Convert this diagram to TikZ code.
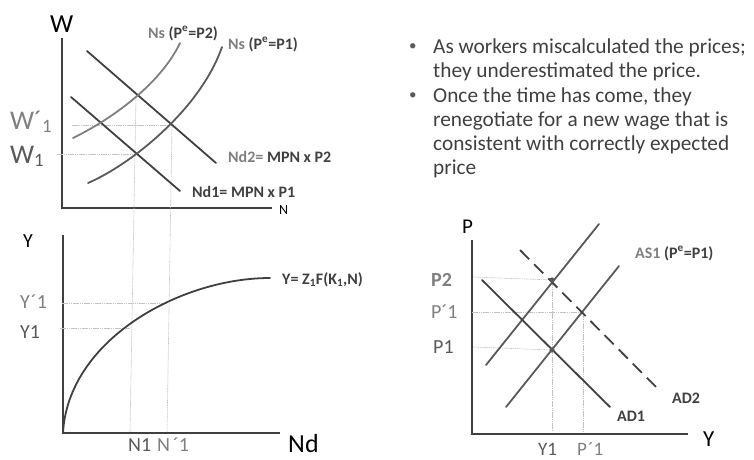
\documentclass[tikz,border=0pt]{standalone}
\usepackage{fontspec}
\setmainfont{Carlito}
\definecolor{dk}{RGB}{64,64,64}
\definecolor{md}{RGB}{89,89,89}
\definecolor{lt}{RGB}{127,127,127}
\definecolor{guide}{RGB}{195,195,195}
\newcommand{\fsz}[1]{\fontsize{#1}{#1}\selectfont}
\begin{document}
\begin{tikzpicture}[x=1pt,y=-1pt,
  axis/.style={draw=dk,line width=1.2pt},
  crv/.style={line width=1.8pt,line cap=round},
  guideline/.style={draw=guide,line width=0.6pt,dash pattern=on 1.5pt off 0.7pt},
  lbl/.style={inner sep=0pt,anchor=base west},
  blbl/.style={lbl,font=\fsz{16}\bfseries},
  bodytext/.style={lbl,text=dk,font=\fsz{21.3}},
  bullettext/.style={lbl,text=md,font=\fsz{15}},
  dotmark/.style={fill=md,draw=none}]
\useasboundingbox (0,0) rectangle (754,459);

% ---------------- top-left: labour market ----------------
\coordinate (wo) at (62,208);
\coordinate (wtop) at (62,38);
\coordinate (wend) at (272,208);
\draw[axis] (wtop) -- (wo) -- (wend);
\node[lbl,font=\fsz{26}] (Wlab) at (50,32) {W};
\node[lbl,font=\fsz{14}] (Nlab) at (279,214) {N};
\node[lbl,font=\fsz{27},text=lt] (W1p) at (10,129) {W´\textsubscript{1}};
\node[lbl,font=\fsz{27},text=md] (W1) at (10,163) {W\textsubscript{1}};

\coordinate (E2) at (136,96);
\coordinate (E1) at (136,154);
\coordinate (E3) at (172,125);
\coordinate (w1a) at (57,154);
\coordinate (w1pa) at (72,125);
\coordinate (n1b) at (130,433);
\coordinate (n1pb) at (167,433);
\draw[guideline] (w1pa) -- (E3);
\draw[guideline] (w1a) -- (E1);
\draw[guideline] (E2) -- (n1b);
\draw[guideline] (E3) -- (n1pb);

\coordinate (nd2a) at (87,51);
\coordinate (nd2b) at (216,163);
\coordinate (nd1a) at (71,97);
\coordinate (nd1b) at (180,191);
\draw[crv,dk] (nd2a) -- (nd2b);
\draw[crv,dk] (nd1a) -- (nd1b);

\coordinate (ns2a) at (73,138);
\coordinate (ns2b) at (180,43);
\coordinate (ns1a) at (88,183);
\coordinate (ns1b) at (222,47);
\draw[crv,lt] (ns2a) .. controls (110,120) and (160,85) .. (ns2b);
\draw[crv,md] (ns1a) .. controls (130,165) and (200,110) .. (ns1b);

\node[blbl] (ns2lab) at (148,38) {\textcolor{lt}{Ns} \textcolor{dk}{(P\textsuperscript{e}=P2)}};
\node[blbl] (ns1lab) at (228,49) {\textcolor{lt}{Ns} \textcolor{dk}{(P\textsuperscript{e}=P1)}};
\node[blbl] (nd2lab) at (228,162) {\textcolor{lt}{Nd2=} \textcolor{dk}{MPN x P2}};
\node[blbl,text=dk] (nd1lab) at (192,197) {Nd1= MPN x P1};

% ---------------- bottom-left: production function ----------------
\coordinate (yo) at (63,433);
\coordinate (ytop) at (63,235);
\coordinate (yend) at (280,433);
\draw[axis] (ytop) -- (yo) -- (yend);
\node[lbl,font=\fsz{20}] (Ylab) at (23,247) {Y};
\node[lbl,font=\fsz{26}] (Ndlab) at (288,452) {Nd};
\node[lbl,font=\fsz{20},text=lt] (Y1p) at (20,308) {Y\kern1pt´1};
\node[lbl,font=\fsz{20},text=md] (Y1) at (20,338) {Y1};
\node[lbl,font=\fsz{20},text=md] (N1lab) at (128,451) {N1};
\node[lbl,font=\fsz{20},text=lt] (N1plab) at (157,451) {N\kern3pt´1};

\coordinate (F1) at (130,328);
\coordinate (F2) at (167,303);
\coordinate (y1a) at (60,328);
\coordinate (y1pa) at (62,303);
\draw[guideline] (y1pa) -- (F2);
\draw[guideline] (y1a) -- (F1);
\coordinate (fend) at (270,278);
\draw[crv,dk] (yo) .. controls (68,340) and (180,278) .. (fend);
\node[lbl,font=\fsz{16}\bfseries,text=dk] (flab) at (282,284) {Y= Z\textsubscript{1}F(K\textsubscript{1},N)};

% ---------------- right: text ----------------
\node[bullettext] (b1) at (409,50) {•};
\node[bodytext] (t1) at (433,53) {As workers miscalculated the prices;};
\node[bodytext] (t2) at (433,77) {they underestimated the price.};
\node[bullettext] (b2) at (409,99) {•};
\node[bodytext] (t3) at (433,102) {Once the time has come, they};
\node[bodytext] (t4) at (433,126) {renegotiate for a new wage that is};
\node[bodytext] (t5) at (433,150) {consistent with correctly expected};
\node[bodytext] (t6) at (433,174) {price};

% ---------------- bottom-right: AS-AD ----------------
\coordinate (po) at (472,434);
\coordinate (ptop) at (472,240);
\coordinate (pend) at (688,434);
\draw[axis] (ptop) -- (po) -- (pend);
\node[lbl,font=\fsz{21}] (Plab) at (462,233) {P};
\node[lbl,font=\fsz{23}] (Yrlab) at (703,446) {Y};
\node[lbl,font=\fsz{20}\bfseries,text=lt] (P2lab) at (431,286) {P2};
\node[lbl,font=\fsz{20},text=lt] (P1plab) at (431,318) {P´1};
\node[lbl,font=\fsz{20},text=md] (P1lab) at (433,353) {P1};
\node[lbl,font=\fsz{19},text=md] (Yr1lab) at (538,455) {Y1};
\node[lbl,font=\fsz{19},text=lt] (Pr1lab) at (577,455) {P\kern1pt´1};

\coordinate (A) at (552,280);
\coordinate (B) at (552,350);
\coordinate (C) at (583,312);
\coordinate (p2a) at (473,277);
\coordinate (p1pa) at (472,312);
\coordinate (p1a) at (473,347);
\coordinate (yr1b) at (552,431);
\coordinate (pr1b) at (583,431);
\draw[guideline] (p2a) -- (A);
\draw[guideline] (p1pa) -- (C);
\draw[guideline] (p1a) -- (B);
\draw[guideline] (A) -- (yr1b);
\draw[guideline] (C) -- (pr1b);

\coordinate (asAa) at (486,365);
\coordinate (asAb) at (599,224);
\coordinate (asBa) at (506,407);
\coordinate (asBb) at (619,266);
\coordinate (ad1a) at (482,280);
\coordinate (ad1b) at (610,407);
\coordinate (ad2a) at (520,250);
\coordinate (ad2b) at (660,391);
\draw[crv,md] (asAa) -- (asAb);
\draw[crv,md] (asBa) -- (asBb);
\draw[crv,dk] (ad1a) -- (ad1b);
\draw[crv,dk,line cap=butt,dash pattern=on 13pt off 7pt] (ad2a) -- (ad2b);
\fill[dotmark] (A) circle (2.6pt);
\fill[dotmark] (B) circle (2.6pt);

\node[blbl] (aslab) at (635,258) {\textcolor{lt}{AS1} \textcolor{dk}{(P\textsuperscript{e}=P1)}};
\node[blbl,text=dk] (ad1lab) at (617,421) {AD1};
\node[blbl,text=dk] (ad2lab) at (672,403) {AD2};
\end{tikzpicture}
\end{document}
